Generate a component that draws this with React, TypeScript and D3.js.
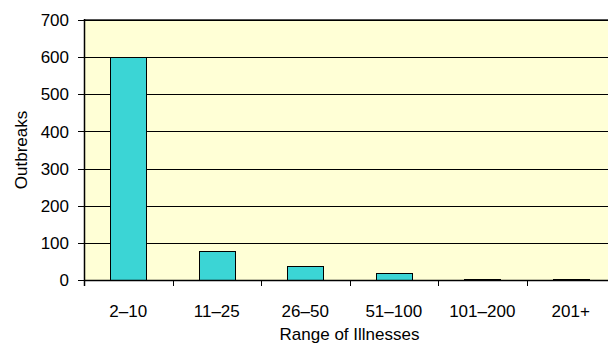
import React from "react";
import * as d3 from "d3";

const categories = ["2\u201310", "11\u201325", "26\u201350", "51\u2013100", "101\u2013200", "201+"];
const outbreaks = [600, 78, 37, 18, 3, 3];
const yTicks = [0, 100, 200, 300, 400, 500, 600, 700];

const W = 608;
const H = 345;
const left = 84;
const right = 615;
const top = 20;
const bottom = 280;
const font = "'Liberation Sans', Arial, sans-serif";

export default function App() {
  const x = d3.scaleBand<string>().domain(categories).range([left, right]).paddingInner(0.59).paddingOuter(0.295);
  const xb = d3.scaleBand<string>().domain(categories).range([left, right]).padding(0);
  const y = d3.scaleLinear().domain([0, 700]).range([bottom, top]);
  const boundaries = categories.map((c) => xb(c) as number).concat([right]);

  return (
    <div style={{ position: "absolute", left: 0, top: 0 }}>
      <svg width={W} height={H} style={{ display: "block", fontFamily: font }}>
        <rect x={0} y={0} width={W} height={H} fill="#ffffff" />
        <rect x={left} y={top} width={right - left} height={bottom - top} fill="#FFFFD6" />
        {yTicks.map((t) => (
          <g key={t}>
            {t > 0 && (
              <line x1={left} x2={right} y1={Math.round(y(t)) + 0.5} y2={Math.round(y(t)) + 0.5} stroke="#000" strokeWidth={1} />
            )}
            <line x1={left - 6} x2={left} y1={Math.round(y(t)) + 0.5} y2={Math.round(y(t)) + 0.5} stroke="#000" strokeWidth={1} />
            <text x={69} y={y(t)} dy="0.36em" textAnchor="end" fontSize={17} fill="#000">
              {t}
            </text>
          </g>
        ))}
        <line x1={left} x2={right} y1={top - 0.5} y2={top - 0.5} stroke="#555" strokeWidth={1} />
        {categories.map((c, i) => {
          const v = outbreaks[i];
          const bx = x(c) as number;
          return (
            <rect
              key={c}
              x={Math.round(bx) + 0.5}
              y={Math.round(y(v)) + 0.5}
              width={Math.round(x.bandwidth())}
              height={Math.max(0, Math.round(y(0)) - Math.round(y(v)))}
              fill="#3BD5D5"
              stroke="#000"
              strokeWidth={1}
            />
          );
        })}
        <line x1={left} x2={right} y1={bottom + 0.5} y2={bottom + 0.5} stroke="#000" strokeWidth={1.5} />
        <line x1={left + 0.5} x2={left + 0.5} y1={top - 1} y2={bottom + 6} stroke="#000" strokeWidth={1.5} />
        {boundaries.map((b, i) => (
          <line key={i} x1={Math.round(b) + 0.5} x2={Math.round(b) + 0.5} y1={bottom} y2={bottom + 6} stroke="#000" strokeWidth={1} />
        ))}
        {categories.map((c) => (
          <text key={c} x={(xb(c) as number) + xb.bandwidth() / 2} y={317} textAnchor="middle" fontSize={17} fill="#000">
            {c}
          </text>
        ))}
        <text x={(left + right) / 2} y={340} textAnchor="middle" fontSize={17} fill="#000">
          Range of Illnesses
        </text>
        <text transform={`translate(27,${(top + bottom) / 2}) rotate(-90)`} textAnchor="middle" fontSize={17} fill="#000">
          Outbreaks
        </text>
      </svg>
    </div>
  );
}
